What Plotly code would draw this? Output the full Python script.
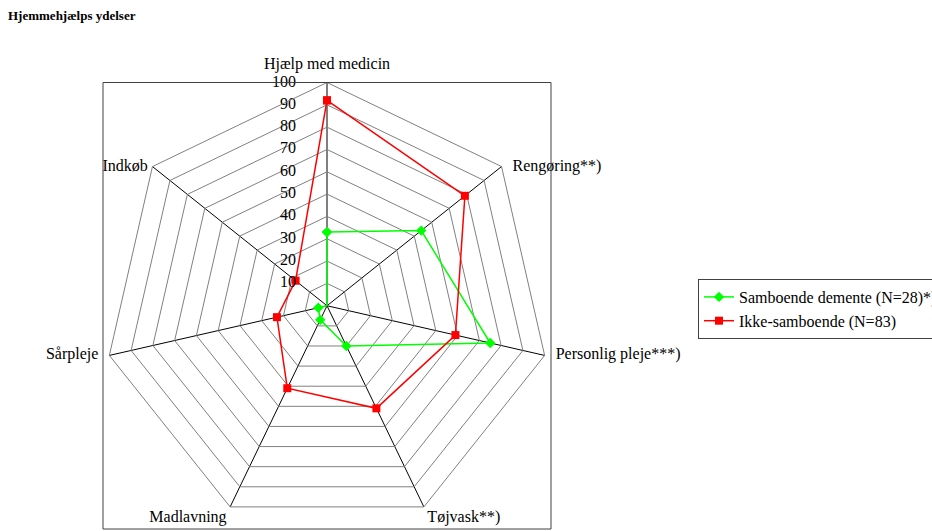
import plotly.graph_objects as go

# Home-help services: share (%) receiving each service
categories = ["Hjælp med medicin", "Rengøring**)", "Personlig pleje***)", "Tøjvask**)",
              "Madlavning", "Sårpleje", "Indkøb"]
samboende = [33, 54, 75, 20, 7, 4, 0]
ikke_samboende = [92, 79, 59, 51, 41, 23, 18]
radial_ticks = [0, 10, 20, 30, 40, 50, 60, 70, 80, 90, 100]

series_names = ["Samboende demente (N=28)*)", "Ikke-samboende (N=83)"]

W, H = 932, 531
FONT = "Liberation Serif"

# polar domain in pixels (left, right, top, bottom)
px_l, px_r, px_t, px_b = 103, 551, 82.5, 529
dom_x = [px_l / W, px_r / W]
dom_y = [1 - px_b / H, 1 - px_t / H]

# where each category name sits around its outer vertex
label_pos = ["top center", "middle right", "middle right", "bottom right",
             "bottom left", "middle left", "middle left"]
label_pad = [14, 16, 16, 4, 4, 16, 6]

fig = go.Figure()


def closed(v):
    return list(v) + [v[0]]


fig.add_trace(go.Scatterpolar(
    r=closed(samboende), theta=closed(categories), name=series_names[0],
    mode="lines+markers",
    line=dict(color="#00FF00", width=1.5),
    marker=dict(symbol="diamond", size=8, color="#00FF00"),
))
fig.add_trace(go.Scatterpolar(
    r=closed(ikke_samboende), theta=closed(categories), name=series_names[1],
    mode="lines+markers",
    line=dict(color="#FF0000", width=1.5),
    marker=dict(symbol="square", size=8, color="#FF0000"),
))

# radial value labels along the first spoke
fig.add_trace(go.Scatterpolar(
    r=radial_ticks, theta=[categories[0]] * len(radial_ticks),
    mode="markers+text", text=[str(t) for t in radial_ticks],
    textposition="middle left",
    textfont=dict(family=FONT, size=16, color="black"),
    marker=dict(size=48, opacity=0),
    showlegend=False, hoverinfo="skip", cliponaxis=False,
))

# category names at the outer ring
fig.add_trace(go.Scatterpolar(
    r=[radial_ticks[-1]] * len(categories), theta=categories,
    mode="markers+text", text=categories,
    textposition=label_pos,
    textfont=dict(family=FONT, size=16, color="black"),
    marker=dict(size=label_pad, opacity=0),
    showlegend=False, hoverinfo="skip", cliponaxis=False,
))

fig.update_layout(
    width=W, height=H,
    margin=dict(l=0, r=0, t=0, b=0, autoexpand=False),
    paper_bgcolor="white",
    plot_bgcolor="white",
    font=dict(family=FONT, size=16, color="black"),
    title=dict(text="<b>Hjemmehjælps ydelser</b>", x=8 / W, y=1 - 15 / H,
               xanchor="left", yanchor="middle",
               font=dict(family=FONT, size=13, color="black")),
    polar=dict(
        domain=dict(x=dom_x, y=dom_y),
        bgcolor="white",
        gridshape="linear",
        radialaxis=dict(
            range=[0, 100], tickvals=radial_ticks, showticklabels=False,
            ticks="", showline=False, angle=90,
            gridcolor="#808080", gridwidth=1,
        ),
        angularaxis=dict(
            rotation=90, direction="clockwise",
            showline=True, linecolor="#808080", linewidth=1,
            gridcolor="black", gridwidth=1,
            ticks="", showticklabels=False,
        ),
    ),
    legend=dict(
        x=698 / W, y=1 - 279 / H, xanchor="left", yanchor="top",
        bordercolor="#404040", borderwidth=1, bgcolor="white",
        font=dict(family=FONT, size=16, color="black"),
        tracegroupgap=0,
    ),
    shapes=[dict(type="rect", xref="paper", yref="paper",
                 x0=dom_x[0], x1=dom_x[1], y0=dom_y[0], y1=dom_y[1],
                 line=dict(color="#404040", width=1), layer="above")],
)

fig.write_html("out.html")
